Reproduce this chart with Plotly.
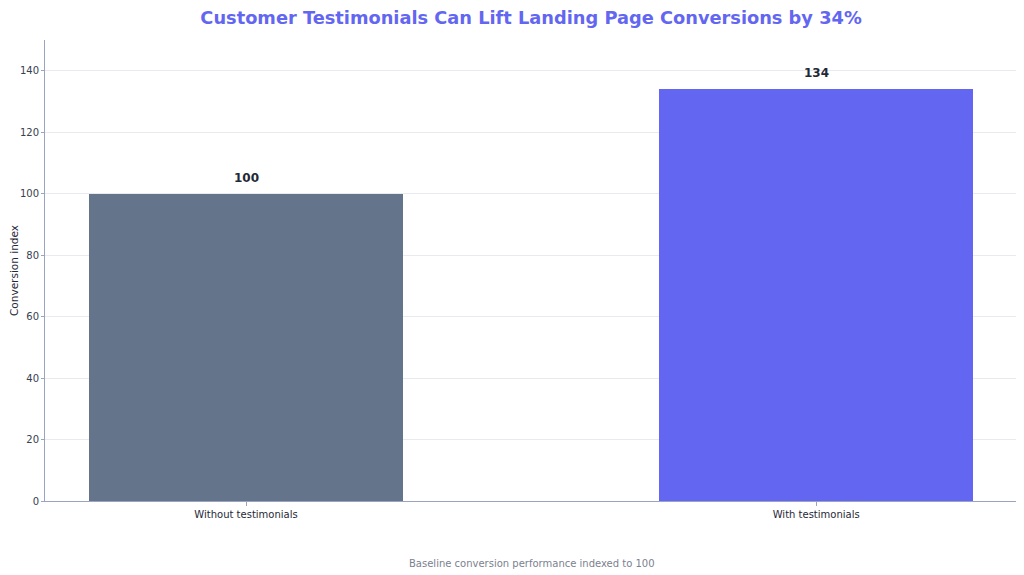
import plotly.graph_objects as go

categories = ["Without testimonials", "With testimonials"]
values = [100, 134]
labels = ["100", "134"]
colors = ["#64748b", "#6366f1"]

fig = go.Figure()
fig.add_trace(go.Bar(
    x=categories, y=values, width=0.55,
    marker=dict(color=colors, line=dict(width=0)),
))

# value labels above each bar
for cat, val, lab in zip(categories, values, labels):
    fig.add_annotation(
        x=cat, y=val, text="<b>" + lab + "</b>", showarrow=False,
        yanchor="bottom", yshift=7,
        font=dict(family="DejaVu Sans", size=12, color="#1f2937"),
    )

# page body has an 8px margin, so the figure is a bit smaller than the window
fig.update_layout(
    width=1016, height=567,
    margin=dict(l=37, r=6, t=32, b=74),
    paper_bgcolor="white", plot_bgcolor="white",
    font=dict(family="DejaVu Sans", size=11, color="#374151"),
    title=dict(text="<b>Customer Testimonials Can Lift Landing Page Conversions by 34%</b>",
               x=0.5148, xanchor="center", y=0.983, yanchor="middle",
               font=dict(size=17.8, color="#6366f1")),
    showlegend=False,
    bargap=0,
)
fig.update_xaxes(
    range=[-0.3526, 1.354], showgrid=False, showline=True, linecolor="#9aa3bf",
    ticks="outside", ticklen=4, tickcolor="#9aa3bf", tickfont=dict(size=10, color="#1f2937"),
    automargin=False,
)
fig.update_yaxes(
    range=[0, 150], dtick=20, showgrid=True, gridcolor="#e8eaf0", gridwidth=1,
    showline=True, linecolor="#9aa3bf", ticks="outside", ticklen=3, tickcolor="#9aa3bf",
    zeroline=False, tickfont=dict(size=10, color="#374151"),
    title=dict(text="Conversion index", font=dict(size=10.5, color="#1f2937"), standoff=4),
    automargin=False,
)
fig.add_annotation(
    text="Baseline conversion performance indexed to 100",
    xref="paper", yref="paper", x=0.5, y=-0.1345, xanchor="center", yanchor="middle",
    showarrow=False, font=dict(size=10, color="#7b8190"),
)

fig.write_html("out.html")
